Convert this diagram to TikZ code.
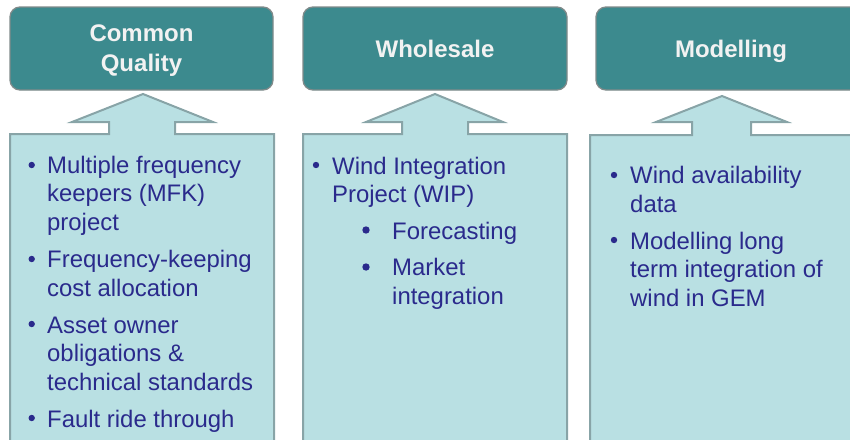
\documentclass[tikz,border=0pt]{standalone}
\usepackage{fontspec}
\setmainfont{Liberation Sans}
\usetikzlibrary{positioning}
\definecolor{headteal}{RGB}{60,138,142}
\definecolor{headline}{RGB}{128,138,138}
\definecolor{headtext}{RGB}{242,242,242}
\definecolor{bodyfill}{RGB}{185,224,227}
\definecolor{bodyline}{RGB}{136,164,167}
\definecolor{itemblue}{RGB}{42,42,140}
\tikzset{
	head/.style={draw=headline, line width=1.3pt, fill=headteal, rounded corners=10pt, text=headtext,
		font=\fontsize{24}{30}\selectfont\bfseries, align=center, minimum height=83pt, text depth=0pt},
	bodybox/.style={draw=bodyline, line width=2pt, fill=bodyfill},
	% multi-line nodes sit on the baseline of their last line
	item/.style={anchor=base west, inner sep=0pt, align=left, text=itemblue, font=\fontsize{23.9}{28.5}\selectfont},
	dot/.style={circle, fill=itemblue, inner sep=0pt, minimum size=6.4pt}
}
\begin{document}
\begin{tikzpicture}[x=1pt, y=-1pt, line join=miter]
			\useasboundingbox (0,0) rectangle (850,439);
			\clip (0,0) rectangle (850,439);
			% headers
			\path
			(141.5,48.5) node[head, minimum width=263pt] (quality) {Common\\Quality}
			(435,48.5) node[head, minimum width=264pt] (wholesale) {Wholesale}
			(731,48.5) node[head, minimum width=270pt] (modelling) {Modelling}
			;
			% boxes with arrows
			\draw[bodybox]
			(10,450)--(10,134)--(109,134)--(109,122)--(72,122)--(143,94)--(213,122)--(175,122)--(175,134)--(274,134)--(274,450)
			;
			\draw[bodybox]
			(303,450)--(303,134)--(402,134)--(402,122)--(366,122)--(435,94)--(503,122)--(468,122)--(468,134)--(567,134)--(567,450)
			;
			\draw[bodybox]
			(590,450)--(590,135)--(692,135)--(692,122)--(656,122)--(722,96)--(787,122)--(751,122)--(751,135)--(860,135)--(860,450)
			;
			% common quality items
			\path
			(47,230) node[item] (mfk) {Multiple frequency\\keepers (MFK)\\project}
			(47,296) node[item] (cost) {Frequency-keeping\\cost allocation}
			(47,390) node[item] (asset) {Asset owner\\obligations \&\\technical standards}
			(47,427) node[item] (fault) {Fault ride through}
			(31.7,165) node[dot] (b1) {}
			(31.7,259) node[dot] (b2) {}
			(31.7,324) node[dot] (b3) {}
			(31.7,418) node[dot] (b4) {}
			;
			% wholesale items
			\path
			(332,202.5) node[item] (wip) {Wind Integration\\Project (WIP)}
			(392,239) node[item] (forecast) {Forecasting}
			(392,304) node[item] (market) {Market\\integration}
			(316,165) node[dot] (b5) {}
			(366,230) node[dot, minimum size=7.4pt] (b6) {}
			(366,267) node[dot, minimum size=7.4pt] (b7) {}
			;
			% modelling items
			\path
			(630,212) node[item] (avail) {Wind availability\\data}
			(630,306) node[item] (gem) {Modelling long\\term integration of\\wind in GEM}
			(614,175) node[dot] (b8) {}
			(614,240) node[dot] (b9) {}
			;
		\end{tikzpicture}
\end{document}
